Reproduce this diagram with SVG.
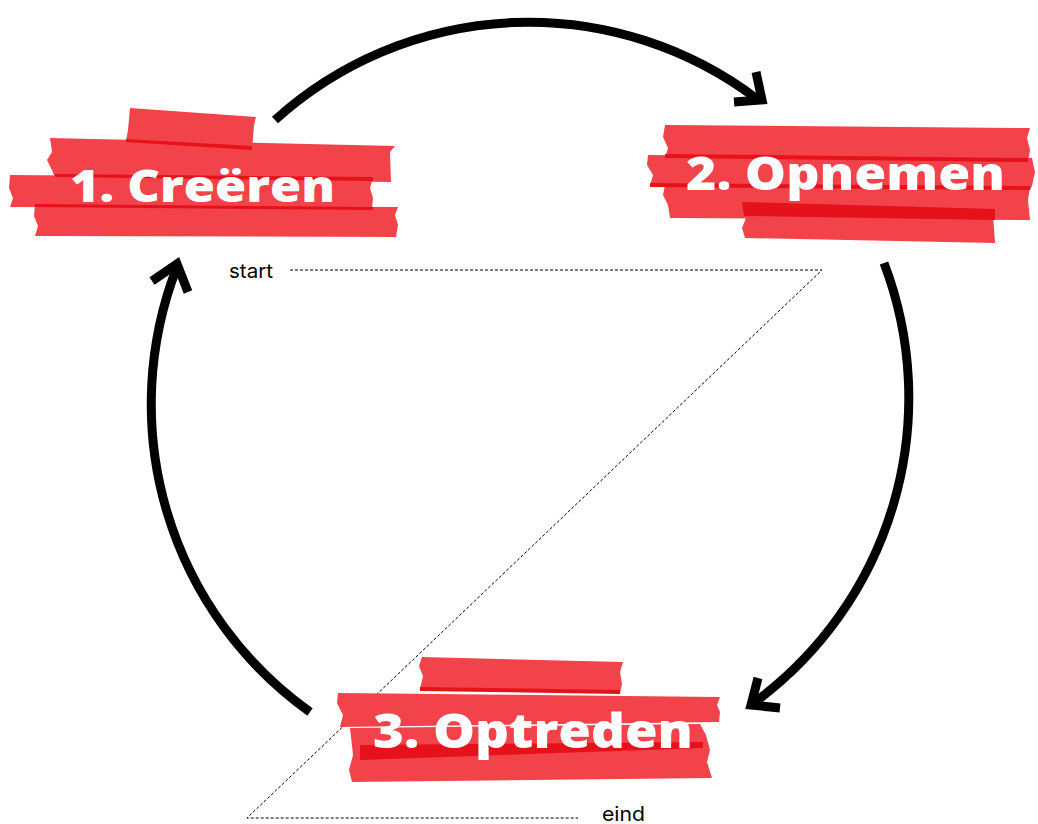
<svg xmlns="http://www.w3.org/2000/svg" width="1038" height="824" viewBox="0 0 1038 824">
<style>
.tape{fill:#f2434b}
.dark{fill:#e5121b}
.arc{fill:none;stroke:#000;stroke-width:9}
.head{fill:none;stroke:#000;stroke-width:9;stroke-linejoin:miter;stroke-linecap:butt}
.dash{fill:none;stroke:#000;stroke-width:1;stroke-dasharray:3 2}
.lbl{font-family:"Open Sans","Liberation Sans",sans-serif;font-weight:800;fill:#fff}
.small{font-family:Inter,Roboto,"Liberation Sans",sans-serif;font-size:20px;fill:#000}
</style>
<rect width="1038" height="824" fill="#fff"/>
<g id="connectors">
<path class="arc" d="M 275 120 A 378 378 0 0 1 757 99"/>
<polyline class="head" points="734,102 762,100 756,72"/>
<path class="arc" d="M 884 263 A 378 378 0 0 1 755 702"/>
<polyline class="head" points="758,678 751,705 780,708"/>
<path class="arc" d="M 310 712 A 378 378 0 0 1 177 267"/>
<polyline class="head" points="152,281 177,264 188,292"/>
<polyline class="dash" points="290,270 822,270 247,818 578,818"/>
<text class="small" x="229" y="278" textLength="44" lengthAdjust="spacingAndGlyphs">start</text>
<text class="small" x="602" y="821" textLength="43" lengthAdjust="spacingAndGlyphs">eind</text>
</g>
<g id="node1">
<polygon class="tape" points="50,138 395,146 390,152 391,182 55,178 52,170 47,160 52,152"/>
<polygon class="tape" points="130,108 256,117 254,125 252,150 126,141 128,130"/>
<polygon class="dark" points="126,139 252,146 252,150 126,142"/>
<polygon class="tape" points="10,175 373,178 370,188 373,198 372,208 10,207 13,198 9,188"/>
<polygon class="dark" points="55,174 373,177 373,181 55,177"/>
<polygon class="tape" points="35,205 398,207 395,215 398,225 396,237 35,236 38,226 34,216"/>
<polygon class="dark" points="35,204 373,207 373,210 35,207"/>
<text class="lbl" x="70" y="202" font-size="44" textLength="265" lengthAdjust="spacingAndGlyphs">1. Creëren</text>
</g>
<g id="node2">
<polygon class="tape" points="665,125 1030,128 1027,138 1030,150 1028,162 665,158 668,148 663,137"/>
<polygon class="tape" points="648,155 1032,158 1035,172 1032,186 1030,190 650,186 653,175 647,165"/>
<polygon class="dark" points="665,154 1028,158 1028,162 665,158"/>
<polygon class="tape" points="665,185 1030,187 1028,200 1030,220 670,218 668,205 663,195"/>
<polygon class="dark" points="650,183 1030,186 1030,190 650,187"/>
<polygon class="tape" points="742,202 995,209 993,215 995,243 745,238 742,228 746,218"/>
<polygon class="dark" points="742,202 995,209 995,220 744,216"/>
<text class="lbl" x="686" y="190" font-size="46" textLength="319" lengthAdjust="spacingAndGlyphs">2. Opnemen</text>
</g>
<g id="node3">
<polygon class="tape" points="422,657 623,662 620,672 622,684 620,693 420,689 423,676 419,666"/>
<polygon class="tape" points="338,693 720,697 717,705 720,712 719,722 340,727 343,715 337,703"/>
<polygon class="dark" points="420,687 620,690 620,694 420,691"/>
<polygon class="tape" points="350,728 700,724 706,735 710,750 707,762 712,778 352,782 349,770 353,755"/>
<polygon class="dark" points="360,745 703,742 703,748 360,760"/>
<text class="lbl" x="373" y="748" font-size="47" textLength="320" lengthAdjust="spacingAndGlyphs">3. Optreden</text>
</g>
</svg>
